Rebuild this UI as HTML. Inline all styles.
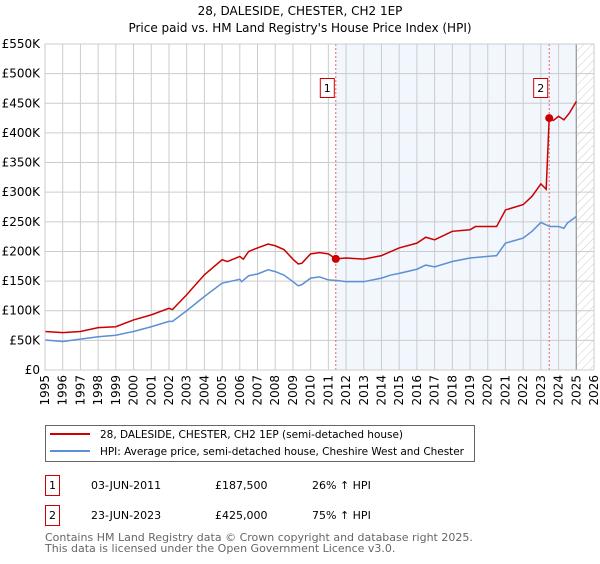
<!DOCTYPE html>
<html><head><meta charset="utf-8"><style>
body{margin:0;background:#fff;font-family:"DejaVu Sans","Liberation Sans",sans-serif;}
svg text{font-family:"DejaVu Sans","Liberation Sans",sans-serif;}
</style></head><body>
<svg id="chart" width="600" height="560" viewBox="0 0 600 560" xmlns="http://www.w3.org/2000/svg">
<text x="300" y="15" text-anchor="middle" font-size="12" fill="#000">28, DALESIDE, CHESTER, CH2 1EP</text>
<text x="300" y="32" text-anchor="middle" font-size="12" fill="#000">Price paid vs. HM Land Registry's House Price Index (HPI)</text>
<g id="plot"></g>
<g>
<rect x="45.5" y="425.5" width="429" height="36" fill="#fff" stroke="#666"/>
<line x1="50" y1="434" x2="90" y2="434" stroke="#cc0000" stroke-width="2"/>
<text x="100" y="438" font-size="10.5" textLength="303">28, DALESIDE, CHESTER, CH2 1EP (semi-detached house)</text>
<line x1="50" y1="451" x2="90" y2="451" stroke="#5b8fd6" stroke-width="2"/>
<text x="100" y="455" font-size="10.5" textLength="364">HPI: Average price, semi-detached house, Cheshire West and Chester</text>
</g>
<g>
<rect x="45.5" y="475.5" width="14" height="20" fill="#fff" stroke="#cc0000"/>
<text x="52.5" y="489" text-anchor="middle" font-size="11">1</text>
<text x="91" y="489" font-size="11">03-JUN-2011</text>
<text x="215" y="489" font-size="11">£187,500</text>
<text x="312" y="489" font-size="11">26% ↑ HPI</text>
<rect x="45.5" y="505.5" width="14" height="20" fill="#fff" stroke="#cc0000"/>
<text x="52.5" y="519" text-anchor="middle" font-size="11">2</text>
<text x="91" y="519" font-size="11">23-JUN-2023</text>
<text x="215" y="519" font-size="11">£425,000</text>
<text x="312" y="519" font-size="11">75% ↑ HPI</text>
</g>
<text x="45" y="541" font-size="11" fill="#666">Contains HM Land Registry data © Crown copyright and database right 2025.</text>
<text x="45" y="552" font-size="11" fill="#666">This data is licensed under the Open Government Licence v3.0.</text>
</svg>
<script>
const yTicks=[0,50000,100000,150000,200000,250000,300000,350000,400000,450000,500000,550000];
const yTickLabels=["£0","£50K","£100K","£150K","£200K","£250K","£300K","£350K","£400K","£450K","£500K","£550K"];
const xYears=[1995,1996,1997,1998,1999,2000,2001,2002,2003,2004,2005,2006,2007,2008,2009,2010,2011,2012,2013,2014,2015,2016,2017,2018,2019,2020,2021,2022,2023,2024,2025,2026];
const hpiDates=[1995,1996,1997,1998,1999,2000,2001,2002,2002.2,2003,2004,2005,2006,2006.1,2006.5,2007,2007.6,2008,2008.5,2009,2009.3,2009.5,2010,2010.5,2011,2011.5,2012,2013,2014,2014.5,2015,2016,2016.5,2017,2018,2019,2020,2020.5,2021,2022,2022.5,2023,2023.5,2024,2024.3,2024.5,2025];
const hpiValues=[50700,48000,52000,56000,58600,65000,73000,82000,82000,100000,124000,146500,153000,149000,159000,162000,169000,166000,160000,149000,142000,144000,155000,157000,152000,151000,149000,149000,155000,160000,163000,170000,177000,174000,183000,189000,191600,193000,214000,222600,234000,249000,242000,242000,239000,248000,259000];
const priceDates=[1995,1996,1997,1998,1999,2000,2001,2002,2002.2,2003,2004,2005,2005.3,2006,2006.2,2006.5,2007,2007.6,2008,2008.5,2009,2009.3,2009.5,2010,2010.5,2011,2011.42,2012,2013,2014,2015,2016,2016.5,2017,2018,2019,2019.3,2020,2020.5,2021,2022,2022.5,2023,2023.3,2023.47,2023.7,2024,2024.3,2024.6,2025];
const priceValues=[65000,63000,65000,71500,73000,84500,93000,104000,102000,127000,160600,186000,183000,191600,187000,200000,206000,212500,209600,203000,187000,179000,180000,196000,198000,196000,187500,189000,187000,193000,206000,214000,224000,219600,234000,236600,242000,242000,242000,270000,279000,293000,314000,305000,425000,421000,428000,422000,433000,453000];
const saleDates=[2011.42,2023.47];
const saleValues=[187500,425000];
const saleLabels=["1","2"];

const NS="http://www.w3.org/2000/svg";
const X0=45,X1=594,Y0=370,Y1=44;
const xs=y=>X0+(y-1995)/(2026-1995)*(X1-X0);
const ys=v=>Y0-v/550000*(Y0-Y1);
const plot=document.getElementById('plot');
function mk(tag,attrs,parent){const e=document.createElementNS(NS,tag);for(const k in attrs)e.setAttribute(k,attrs[k]);(parent||plot).appendChild(e);return e;}

const bg=mk('rect',{x:X0,y:Y1,width:X1-X0,height:Y0-Y1,fill:'#fff'});


const shade=mk('rect',{x:xs(saleDates[0]),y:Y1,width:xs(2025)-xs(saleDates[0]),height:Y0-Y1,fill:'#f2f6fd'});


const defs=mk('defs',{});
const pat=mk('pattern',{id:'hatch',width:6,height:6,patternUnits:'userSpaceOnUse',patternTransform:'rotate(45)'},defs);
mk('line',{x1:0,y1:0,x2:0,y2:6,stroke:'#ccc','stroke-width':1},pat);
const hatch=mk('rect',{x:xs(2025),y:Y1,width:X1-xs(2025),height:Y0-Y1,fill:'url(#hatch)'});



yTicks.forEach((v,i)=>{
 const g=mk('line',{x1:X0,x2:X1,y1:ys(v),y2:ys(v),stroke:'#ccc','stroke-width':1});
 
 
 const t=mk('text',{x:X0-5,y:ys(v)+4,'text-anchor':'end','font-size':12,fill:'#000'});
 t.textContent=yTickLabels[i];
 
 
});
xYears.forEach(yr=>{
 const g=mk('line',{x1:xs(yr),x2:xs(yr),y1:Y1,y2:Y0,stroke:'#ccc','stroke-width':1});
 
 
 const t=mk('text',{x:0,y:0,'text-anchor':'end','font-size':12,fill:'#000',transform:`translate(${xs(yr)+4},${Y0+5}) rotate(-90)`});
 t.textContent=yr;
 
 
});
const nowLine=mk('line',{x1:xs(2025),x2:xs(2025),y1:Y1,y2:Y0,stroke:'#999','stroke-width':1.2});



saleDates.forEach((d,i)=>{
 const l=mk('line',{x1:xs(d),x2:xs(d),y1:Y1,y2:Y0,stroke:'#f06060','stroke-width':1,'stroke-dasharray':'2,2'});
 
 
 const bx=mk('rect',{x:xs(d)-15.5,y:78.5,width:14,height:19,fill:'#fff',stroke:'#cc0000'});
 
 
 const t=mk('text',{x:xs(d)-8.5,y:92,'text-anchor':'middle','font-size':11});
 t.textContent=saleLabels[i];
 
 
});

const hp=mk('polyline',{points:hpiDates.map((d,i)=>xs(d)+','+ys(hpiValues[i])).join(' '),fill:'none',stroke:'#5b8fd6','stroke-width':1.5});


const pp=mk('polyline',{points:priceDates.map((d,i)=>xs(d)+','+ys(priceValues[i])).join(' '),fill:'none',stroke:'#cc0000','stroke-width':1.5});


saleDates.forEach((d,i)=>{
 const c=mk('circle',{cx:xs(d),cy:ys(saleValues[i]),r:4,fill:'#cc0000'});
 
 
});
const border=mk('rect',{x:X0,y:Y1,width:X1-X0,height:Y0-Y1,fill:'none',stroke:'#ccc'});


</script>
</body></html>
